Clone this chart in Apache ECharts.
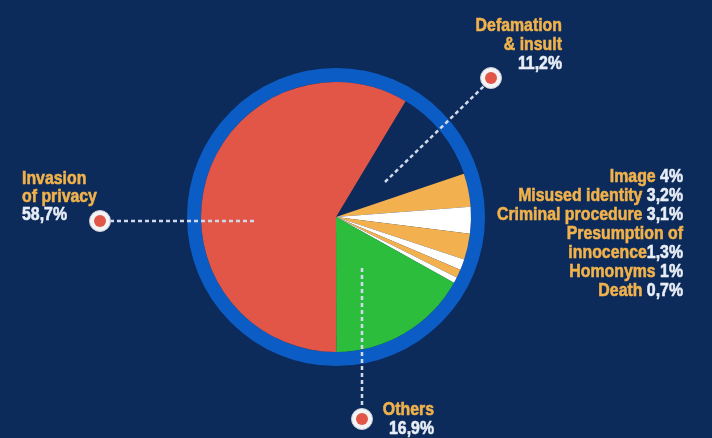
<!DOCTYPE html>
<html>
<head>
<meta charset="utf-8">
<script src="https://cdn.jsdelivr.net/npm/echarts@6/dist/echarts.min.js"></script>
<style>
html,body{margin:0;padding:0;background:#0c2b5b;}
#c{width:712px;height:438px;}
</style>
</head>
<body>
<div id="c"></div>
<script>
// Data (clockwise order of slices)
const categories = ['Defamation & insult','Image','Misused identity','Criminal procedure','Presumption of innocence','Homonyms','Death','Others','Invasion of privacy'];
const labelLines = [['Defamation','& insult'],['Image'],['Misused identity'],['Criminal procedure'],['Presumption of','innocence'],['Homonyms'],['Death'],['Others'],['Invasion','of privacy']];
const values = [11.2, 4, 3.2, 3.1, 1.3, 1, 0.7, 16.9, 58.7];
const colors = ['#0c2b5b','#f3b04f','#ffffff','#f3b04f','#ffffff','#f3b04f','#ffffff','#2dbd3d','#e15647'];

const FONT = '"Liberation Sans",Arial,sans-serif';
const SX = 0.835;
const fmt = v => String(v).replace('.', ',') + '%';
function richCopy(lh){
  return {
    a:{fill:'#f1b24b', stroke:'#f1b24b', lineWidth:0.6, fontFamily:FONT, fontWeight:'bold', fontSize:19, lineHeight:lh},
    b:{fill:'#e8edf6', stroke:'#e8edf6', lineWidth:0.6, fontFamily:FONT, fontWeight:'bold', fontSize:19, lineHeight:lh}
  };
}
function stacked(i){
  return labelLines[i].map(s => '{a|' + s + '}').join('\n') + '\n{b|' + fmt(values[i]) + '}';
}
function inline(i){
  const L = labelLines[i];
  const sep = L.length > 1 ? '' : ' ';
  return L.map((s, k) => k === L.length - 1 ? '{a|' + s + sep + '}{b|' + fmt(values[i]) + '}' : '{a|' + s + '}').join('\n');
}
const smallIdx = [1,2,3,4,5,6];
const rightText = smallIdx.map(inline).join('\n');

const lineStyle = {stroke:'#d2daea', lineWidth:2.5, lineDash:[4,3]};
function marker(x, y){
  return [
    {type:'circle', shape:{cx:x, cy:y, r:10.5}, style:{fill:'#f4f4f6', stroke:'#c9cdd6', lineWidth:1}, z:20},
    {type:'circle', shape:{cx:x, cy:y, r:6}, style:{fill:'#e15647'}, z:21}
  ];
}
function label(x, y, text, lh, align){
  return {type:'text', x:x, y:y, scaleX:SX, z:10, style:{text:text, rich:richCopy(lh), align:align, verticalAlign:'top'}};
}

const chart = echarts.init(document.getElementById('c'), null, {renderer:'canvas'});
chart.setOption({
  backgroundColor:'#0c2b5b',
  animation:false,
  series:[
    {
      type:'pie', silent:true, center:[336,217], radius:[135,149],
      label:{show:false}, labelLine:{show:false},
      data:[{value:1, itemStyle:{color:'#0b5cc5'}}]
    },
    {
      type:'pie', center:[336,217], radius:[0,135], startAngle:59, clockwise:true,
      label:{show:false}, labelLine:{show:false}, silent:true,
      data: categories.map((c, i) => ({name:c, value:values[i], itemStyle:{color:colors[i]}}))
    }
  ],
  graphic:[
    {type:'line', shape:{x1:254, y1:221, x2:111, y2:221}, style:lineStyle, z:10},
    ...marker(100, 221),
    label(22, 170, stacked(8), 18, 'left'),
    {type:'line', shape:{x1:385, y1:182, x2:484, y2:86}, style:lineStyle, z:10},
    ...marker(491, 78),
    label(562, 16, stacked(0), 19, 'right'),
    {type:'line', shape:{x1:362, y1:268, x2:362, y2:408}, style:lineStyle, z:10},
    ...marker(362, 419),
    label(434, 400, stacked(7), 19, 'right'),
    label(683, 167, rightText, 19, 'right')
  ]
});
</script>
</body>
</html>
